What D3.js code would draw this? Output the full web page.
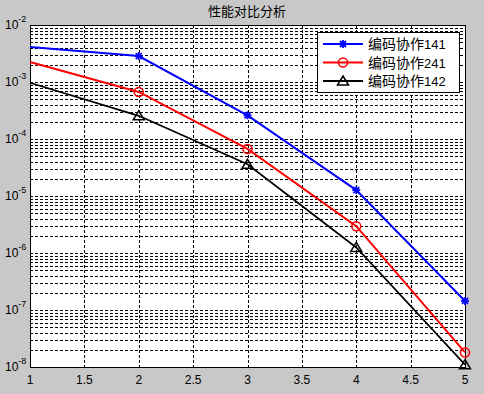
<!DOCTYPE html>
<html>
<head>
<meta charset="utf-8">
<script src="https://cdn.jsdelivr.net/npm/d3@7"></script>
<style>
  body { margin: 0; background: #c8c8c8; }
  svg { display: block; }
</style>
</head>
<body>
<div id="viz"></div>
<script>
let w = 484;
let h = 394;
let padL = 30, padR = 465, padT = 25, padB = 367;

// data
let xs = [1, 2, 3, 4, 5];
let s141 = [4.1e-3, 2.85e-3, 2.6e-4, 1.27e-5, 1.44e-7];
let s241 = [2.25e-3, 6.7e-4, 6.7e-5, 2.95e-6, 1.8e-8];
let s142 = [9.7e-4, 2.55e-4, 3.6e-5, 1.25e-6, 1.1e-8];
let names = ["编码协作141", "编码协作241", "编码协作142"];
let colors = ["#0000ff", "#ff0000", "#000000"];
let markers = ["star", "circle", "triangle"];
let xTicks = [1, 1.5, 2, 2.5, 3, 3.5, 4, 4.5, 5];
let yExps = [-8, -7, -6, -5, -4, -3, -2];
let title = "性能对比分析";

let series = [s141, s241, s142];

let viz = d3.select("#viz").append("svg")
    .attr("width", w).attr("height", h);

viz.append("rect").attr("width", w).attr("height", h).attr("fill", "#c8c8c8");

let x = d3.scaleLinear().domain([1, 5]).range([padL, padR]);
let y = d3.scaleLog().domain([1e-8, 1e-2]).range([padB, padT]);

viz.append("rect")
    .attr("x", padL).attr("y", padT)
    .attr("width", padR - padL).attr("height", padB - padT)
    .attr("fill", "white");

// grid
let minor = [];
yExps.slice(0, -1).forEach(e => {
  for (let k = 2; k <= 9; k++) minor.push(k * Math.pow(10, e));
});
let gridY = minor.concat(yExps.map(e => Math.pow(10, e)));

let grid = viz.append("g").attr("stroke", "#000").attr("stroke-width", 1)
    .attr("stroke-dasharray", "3,2").attr("shape-rendering", "crispEdges");
grid.selectAll(".gy").data(gridY).enter().append("line")
    .attr("x1", padL).attr("x2", padR)
    .attr("y1", d => Math.round(y(d)) + 0.5).attr("y2", d => Math.round(y(d)) + 0.5);
grid.selectAll(".gx").data(xTicks).enter().append("line")
    .attr("y1", padT).attr("y2", padB)
    .attr("x1", d => Math.round(x(d)) + 0.5).attr("x2", d => Math.round(x(d)) + 0.5);

// box
viz.append("rect")
    .attr("x", padL + 0.5).attr("y", padT + 0.5)
    .attr("width", padR - padL).attr("height", padB - padT)
    .attr("fill", "none").attr("stroke", "#000").attr("stroke-width", 1)
    .attr("shape-rendering", "crispEdges");

// x tick labels
viz.append("g").selectAll("text").data(xTicks).enter().append("text")
    .attr("x", d => x(d)).attr("y", padB + 17)
    .attr("text-anchor", "middle")
    .attr("font-family", "Liberation Sans, Arial, sans-serif")
    .attr("font-size", "12px")
    .text(d => d);

// y tick labels 10^e
let yl = viz.append("g").attr("font-family", "Liberation Sans, Arial, sans-serif");
yExps.forEach(e => {
  let t = yl.append("text")
      .attr("x", 5).attr("y", y(Math.pow(10, e)) + 4)
      .attr("font-size", "12px");
  t.append("tspan").text("10");
  t.append("tspan").attr("dy", -7).attr("font-size", "9px").text(e);
});

// lines
let line = d3.line().x((d, i) => x(xs[i])).y(d => y(d));

function drawMarker(g, type, color, cx, cy) {
  if (type === "star") {
    let s = 4;
    [[0, -s, 0, s], [-s, 0, s, 0], [-3, -3, 3, 3], [-3, 3, 3, -3]].forEach(p => {
      g.append("line").attr("x1", cx + p[0]).attr("y1", cy + p[1])
        .attr("x2", cx + p[2]).attr("y2", cy + p[3])
        .attr("stroke", color).attr("stroke-width", 1.8);
    });
  } else if (type === "circle") {
    g.append("circle").attr("cx", cx).attr("cy", cy).attr("r", 4.5)
      .attr("fill", "none").attr("stroke", color).attr("stroke-width", 1.5);
  } else {
    g.append("path")
      .attr("d", `M${cx},${cy - 5}L${cx + 5.5},${cy + 4}L${cx - 5.5},${cy + 4}Z`)
      .attr("fill", "none").attr("stroke", color).attr("stroke-width", 1.5);
  }
}

series.forEach((s, k) => {
  let g = viz.append("g");
  g.append("path").datum(s).attr("d", line)
    .attr("fill", "none").attr("stroke", colors[k])
    .attr("stroke-width", k === 2 ? 1.7 : 2);
  // the reference shows no marker on the first point
  s.forEach((v, i) => { if (i > 0) drawMarker(g, markers[k], colors[k], x(xs[i]), y(v)); });
});

// title
viz.append("text")
    .attr("x", 247).attr("y", 16)
    .attr("text-anchor", "middle")
    .attr("font-family", "Noto Sans CJK SC, sans-serif")
    .attr("font-size", "13px")
    .text(title);

// legend
let lg = viz.append("g");
lg.append("rect")
    .attr("x", 317.5).attr("y", 32.5).attr("width", 142).attr("height", 60)
    .attr("fill", "white").attr("stroke", "#000").attr("stroke-width", 1)
    .attr("shape-rendering", "crispEdges");
names.forEach((n, k) => {
  let cy = 44 + k * 18.5;
  lg.append("line").attr("x1", 323).attr("x2", 363).attr("y1", cy).attr("y2", cy)
    .attr("stroke", colors[k]).attr("stroke-width", 2);
  drawMarker(lg, markers[k], colors[k], 343, cy);
  let t = lg.append("text").attr("x", 368).attr("y", cy + 5)
    .attr("font-family", "Noto Sans CJK SC, sans-serif").attr("font-size", "14px");
  t.append("tspan").text(n.slice(0, 4));
  t.append("tspan").attr("font-family", "Liberation Sans, Arial, sans-serif")
    .attr("font-size", "13px").text(n.slice(4));
});
</script>
</body>
</html>
